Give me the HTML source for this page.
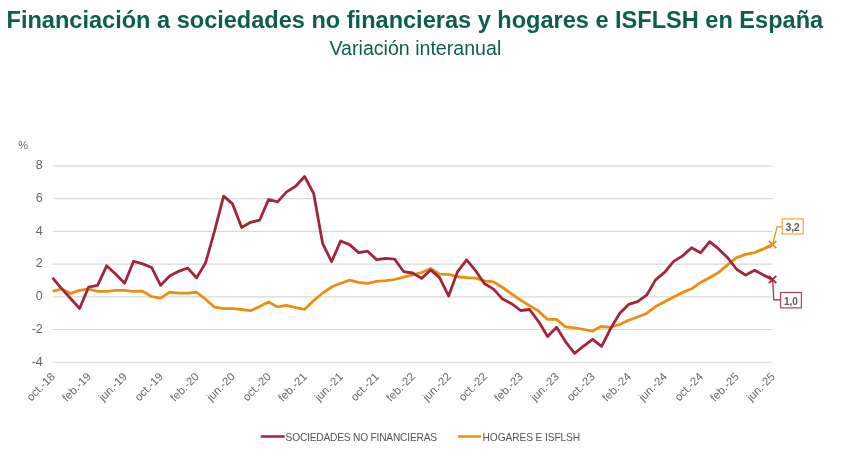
<!DOCTYPE html>
<html><head><meta charset="utf-8"><style>
html,body{margin:0;padding:0;background:#fff;width:843px;height:456px;overflow:hidden}
svg{display:block;will-change:transform;font-family:"Liberation Sans",sans-serif}
</style></head><body>
<svg width="843" height="456" viewBox="0 0 843 456">
<text x="6.55" y="27.8" font-size="23.56" font-weight="bold" fill="#0d5e4c">Financiación a sociedades no financieras y hogares e ISFLSH en España</text>
<text x="329.5" y="54.7" font-size="19.6" fill="#0d5e4c">Variación interanual</text>
<text x="18.3" y="148.6" font-size="11" fill="#666666">%</text>
<g stroke="#d9d9d9" stroke-width="1.2"><line x1="52.6" x2="772.6" y1="362.24" y2="362.24"/><line x1="52.6" x2="772.6" y1="329.52" y2="329.52"/><line x1="52.6" x2="772.6" y1="296.80" y2="296.80"/><line x1="52.6" x2="772.6" y1="264.08" y2="264.08"/><line x1="52.6" x2="772.6" y1="231.36" y2="231.36"/><line x1="52.6" x2="772.6" y1="198.64" y2="198.64"/><line x1="52.6" x2="772.6" y1="165.92" y2="165.92"/></g>
<g font-size="12.5" fill="#666666" text-anchor="end"><text x="42.8" y="365.64">-4</text><text x="42.8" y="332.92">-2</text><text x="42.8" y="300.20">0</text><text x="42.8" y="267.48">2</text><text x="42.8" y="234.76">4</text><text x="42.8" y="202.04">6</text><text x="42.8" y="169.32">8</text></g>
<polyline points="52.60,291.42 61.60,288.98 70.60,293.38 79.60,290.44 88.60,288.98 97.60,291.42 106.60,291.42 115.60,290.44 124.60,290.44 133.60,291.42 142.60,291.10 151.60,296.64 160.60,298.10 169.60,292.24 178.60,293.05 187.60,293.05 196.60,292.24 205.60,299.25 214.60,307.23 223.60,308.70 232.60,308.70 241.60,309.51 250.60,310.66 259.60,306.58 268.60,302.02 277.60,306.91 286.60,305.28 295.60,307.56 304.60,309.35 313.60,300.71 322.60,293.05 331.60,287.02 340.60,283.27 349.60,280.17 358.60,282.29 367.60,283.27 376.60,281.31 385.60,280.66 394.60,279.52 403.60,277.08 412.60,274.96 421.60,272.51 430.60,268.44 439.60,274.14 448.60,274.47 457.60,276.75 466.60,277.57 475.60,278.06 484.60,280.83 493.60,281.97 502.60,287.51 511.60,293.87 520.60,300.06 529.60,305.76 538.60,311.14 547.60,319.46 556.60,319.46 565.60,326.79 574.60,327.77 583.60,329.40 592.60,331.03 601.60,326.30 610.60,327.28 619.60,324.51 628.60,320.27 637.60,317.01 646.60,313.43 655.60,306.58 664.60,301.69 673.60,296.96 682.60,292.40 691.60,288.81 700.60,282.46 709.60,277.73 718.60,272.35 727.60,264.85 736.60,257.68 745.60,254.42 754.60,252.63 763.60,248.88 772.60,244.48" fill="none" stroke="#ec8e10" stroke-width="2.8" stroke-linejoin="round"/>
<polyline points="52.60,277.89 61.60,288.65 70.60,298.43 79.60,308.54 88.60,287.02 97.60,285.39 106.60,265.83 115.60,273.98 124.60,283.27 133.60,261.27 142.60,263.87 151.60,267.46 160.60,285.39 169.60,275.94 178.60,271.37 187.60,267.95 196.60,277.89 205.60,262.73 214.60,230.95 223.60,196.07 232.60,203.89 241.60,227.53 250.60,222.31 259.60,220.19 268.60,199.49 277.60,201.93 286.60,191.83 295.60,186.29 304.60,176.51 313.60,193.30 322.60,243.34 331.60,261.75 340.60,241.05 349.60,244.64 358.60,252.63 367.60,251.16 376.60,259.64 385.60,258.33 394.60,259.15 403.60,271.54 412.60,273.00 421.60,278.38 430.60,269.91 439.60,277.57 448.60,295.99 457.60,271.54 466.60,259.96 475.60,270.72 484.60,283.76 493.60,289.14 502.60,299.08 511.60,303.65 520.60,310.49 529.60,309.51 538.60,321.58 547.60,336.57 556.60,327.28 565.60,341.79 574.60,353.36 583.60,346.03 592.60,339.34 601.60,346.35 610.60,328.59 619.60,313.43 628.60,304.46 637.60,301.69 646.60,295.17 655.60,279.85 664.60,272.35 673.60,261.43 682.60,255.89 691.60,247.74 700.60,252.79 709.60,241.71 718.60,248.88 727.60,257.68 736.60,269.25 745.60,275.12 754.60,270.23 763.60,275.12 772.60,279.52" fill="none" stroke="#a3253c" stroke-width="2.8" stroke-linejoin="round"/>
<path d="M768.90,240.78L776.30,248.18M768.90,248.18L776.30,240.78" stroke="#ec8e10" stroke-width="1.8" fill="none"/>
<path d="M768.90,275.82L776.30,283.22M768.90,283.22L776.30,275.82" stroke="#a3253c" stroke-width="1.8" fill="none"/>
<polyline points="772.60,244.48 777.1,226.9 782,226.9" fill="none" stroke="#ec8e10" stroke-width="1.2"/>
<rect x="782.2" y="218.9" width="21.0" height="15.1" fill="#fff" stroke="#f2a73c" stroke-width="1.2"/>
<text x="792.6" y="230.6" font-size="10" font-weight="bold" fill="#5a5a5a" text-anchor="middle">3,2</text>
<polyline points="772.60,279.52 773.8,299.8 780.5,299.8" fill="none" stroke="#a3253c" stroke-width="1.2"/>
<rect x="780.6" y="292.5" width="20.8" height="15.4" fill="#fff" stroke="#b04556" stroke-width="1.2"/>
<text x="790.9" y="304.5" font-size="10" font-weight="bold" fill="#5a5a5a" text-anchor="middle">1,0</text>
<g font-size="11.3" fill="#666666" text-anchor="end"><text transform="translate(55.60,377.3) rotate(-45)">oct.-18</text><text transform="translate(91.60,377.3) rotate(-45)">feb.-19</text><text transform="translate(127.60,377.3) rotate(-45)">jun.-19</text><text transform="translate(163.60,377.3) rotate(-45)">oct.-19</text><text transform="translate(199.60,377.3) rotate(-45)">feb.-20</text><text transform="translate(235.60,377.3) rotate(-45)">jun.-20</text><text transform="translate(271.60,377.3) rotate(-45)">oct.-20</text><text transform="translate(307.60,377.3) rotate(-45)">feb.-21</text><text transform="translate(343.60,377.3) rotate(-45)">jun.-21</text><text transform="translate(379.60,377.3) rotate(-45)">oct.-21</text><text transform="translate(415.60,377.3) rotate(-45)">feb.-22</text><text transform="translate(451.60,377.3) rotate(-45)">jun.-22</text><text transform="translate(487.60,377.3) rotate(-45)">oct.-22</text><text transform="translate(523.60,377.3) rotate(-45)">feb.-23</text><text transform="translate(559.60,377.3) rotate(-45)">jun.-23</text><text transform="translate(595.60,377.3) rotate(-45)">oct.-23</text><text transform="translate(631.60,377.3) rotate(-45)">feb.-24</text><text transform="translate(667.60,377.3) rotate(-45)">jun.-24</text><text transform="translate(703.60,377.3) rotate(-45)">oct.-24</text><text transform="translate(739.60,377.3) rotate(-45)">feb.-25</text><text transform="translate(775.60,377.3) rotate(-45)">jun.-25</text></g>
<line x1="260.7" x2="284.7" y1="436.5" y2="436.5" stroke="#a3253c" stroke-width="2.5" />
<text x="285.6" y="441" font-size="10.2" letter-spacing="-0.2" fill="#555">SOCIEDADES NO FINANCIERAS</text>
<line x1="458.1" x2="481.1" y1="436.5" y2="436.5" stroke="#ec8e10" stroke-width="2.5" />
<text x="482.6" y="441" font-size="10.2" letter-spacing="-0.1" fill="#555">HOGARES E ISFLSH</text>
</svg>
</body></html>
